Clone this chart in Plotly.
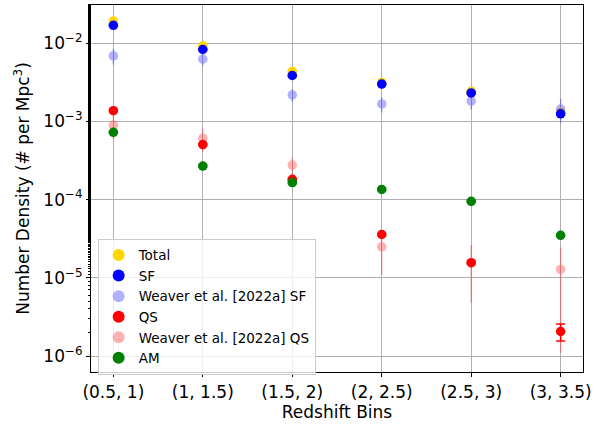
import plotly.graph_objects as go

# Redshift bins
bins = ["(0.5, 1)", "(1, 1.5)", "(1.5, 2)", "(2, 2.5)", "(2.5, 3)", "(3, 3.5)"]

# Number densities (# per Mpc^3) and 1-sigma errors
total = [0.0192, 0.00924, 0.00435, 0.00315, 0.00242, 0.00130]
total_err = [0.0004, 0.0002, 0.0001, 0.00007, 0.00006, 0.00004]

sf = [0.0169, 0.0083, 0.00386, 0.00300, 0.00231, 0.00125]
sf_err = [0.0004, 0.0002, 0.0001, 0.00007, 0.00006, 0.00004]

weaver_sf = [0.00689, 0.00625, 0.00218, 0.00167, 0.00182, 0.00144]
weaver_sf_err = [0.00155, 0.0011, 0.0004, 0.00037, 0.0004, 0.00049]

qs = [0.00137, 0.000506, 0.000182, 3.58e-5, 1.56e-5, 2.06e-6]
qs_err = [0.00004, 0.000015, 0.000006, 1.2e-6, 6.0e-7, 5.0e-7]

weaver_qs = [0.000895, 0.00061, 0.000276, 2.49e-5, 1.55e-5, 1.28e-5]
weaver_qs_err = [0.0003, 0.0002, 0.00007, 1.38e-5, 1.07e-5, 1.17e-5]

am = [0.000726, 0.000268, 0.000165, 0.000135, 9.5e-5, 3.5e-5]
am_err = [0.00002, 0.000008, 0.000005, 0.000004, 0.000003, 0.000001]

ytick_vals = [1e-6, 1e-5, 1e-4, 1e-3, 1e-2]
ytick_text = ["10<sup>−6</sup>", "10<sup>−5</sup>", "10<sup>−4</sup>",
              "10<sup>−3</sup>", "10<sup>−2</sup>"]

FONT = "DejaVu Sans"

series = [
    ("Total", total, total_err, "#FFD700", 1.0, 4.5),
    ("SF", sf, sf_err, "#0000FF", 1.0, 4.5),
    ("Weaver et al. [2022a] SF", weaver_sf, weaver_sf_err, "#0000FF", 0.3, 0),
    ("QS", qs, qs_err, "#FF0000", 1.0, 4.5),
    ("Weaver et al. [2022a] QS", weaver_qs, weaver_qs_err, "#FF0000", 0.3, 0),
    ("AM", am, am_err, "#008000", 1.0, 4.5),
]

fig = go.Figure()
for name, vals, errs, color, alpha, cap in series:
    fig.add_trace(go.Scatter(
        x=bins, y=vals, name=name, mode="markers",
        opacity=alpha,
        marker=dict(color=color, size=9.5, line=dict(width=0)),
        error_y=dict(type="data", array=errs, visible=True,
                     color=color, thickness=1.5, width=cap),
    ))

axis_common = dict(
    showline=True, linecolor="black", linewidth=1.2, mirror=True,
    ticks="outside", ticklen=4, tickwidth=1, tickcolor="black",
    showgrid=True, gridcolor="#b0b0b0", gridwidth=1,
    zeroline=False,
    tickfont=dict(family=FONT, size=17, color="black"),
)

fig.update_layout(
    width=595, height=427,
    margin=dict(l=91, r=9, t=4, b=55),
    paper_bgcolor="white", plot_bgcolor="white",
    font=dict(family=FONT, color="black"),
    xaxis=dict(
        **axis_common,
        type="category",
        range=[-0.25, 5.25],
        title=dict(text="Redshift Bins", font=dict(family=FONT, size=17),
                   standoff=5),
    ),
    yaxis=dict(
        **axis_common,
        type="log",
        range=[-6.204, -1.512],
        tickvals=ytick_vals, ticktext=ytick_text,
        minor=dict(ticks="outside", ticklen=2, tickcolor="black",
                   showgrid=False),
        title=dict(text="Number Density (# per Mpc<sup>3</sup>)",
                   font=dict(family=FONT, size=17), standoff=9),
    ),
    legend=dict(
        x=0.0135, y=0.363, xanchor="left", yanchor="top",
        bgcolor="rgba(255,255,255,0.8)", bordercolor="#cccccc", borderwidth=1,
        font=dict(family=FONT, size=13.5, color="black"),
        itemsizing="constant",
        tracegroupgap=0,
    ),
    showlegend=True,
)

fig.write_html("out.html")
